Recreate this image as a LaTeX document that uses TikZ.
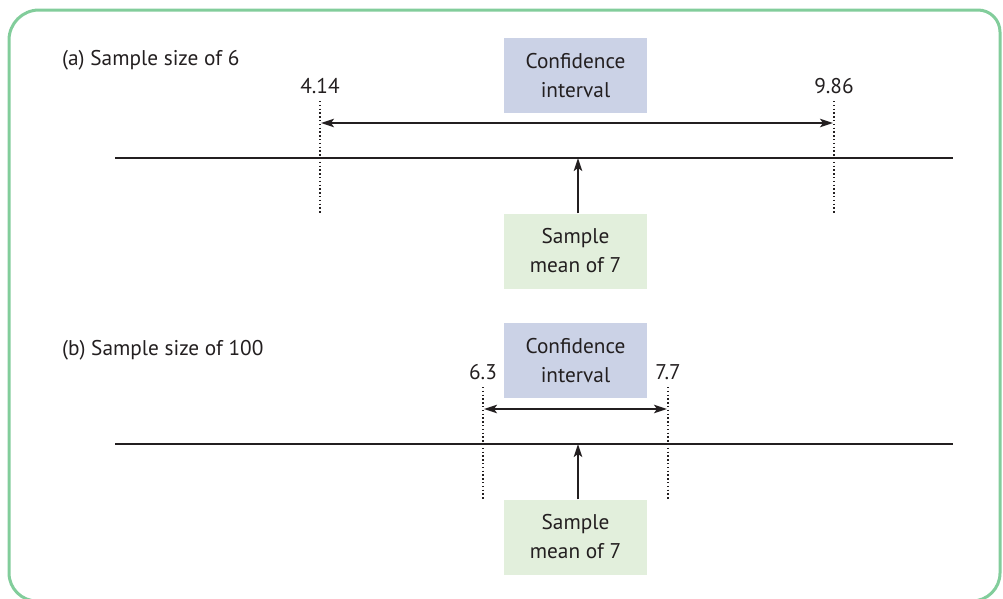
\documentclass[tikz,border=0pt]{standalone}
\usepackage{fontspec}
\setmainfont{PT Sans}
\usetikzlibrary{arrows.meta}
\definecolor{framegreen}{RGB}{130,205,155}
\definecolor{ink}{RGB}{35,31,32}
\definecolor{ciblue}{RGB}{203,210,230}
\definecolor{meangreen}{RGB}{226,239,220}
\begin{document}
\begin{tikzpicture}[x=1pt,y=-1pt,
  txt/.style={font=\fontsize{21.3}{29}\selectfont, text=ink, inner sep=0pt},
  box/.style={txt, minimum width=143pt, minimum height=75pt, align=center},
  cibox/.style={box, fill=ciblue},
  meanbox/.style={box, fill=meangreen},
  axis/.style={draw=ink, line width=2pt},
  tip/.style={-{Stealth[length=13pt,width=8.5pt,inset=3pt]}},
  arr/.style={draw=ink, line width=1.8pt, tip},
  darr/.style={draw=ink, line width=1.8pt, {Stealth[length=13pt,width=8.5pt,inset=3pt]}-{Stealth[length=13pt,width=8.5pt,inset=3pt]}},
  bound/.style={draw=ink, line width=1.6pt, dash pattern=on 1.4pt off 2.4pt},
]
\useasboundingbox (0,0) rectangle (1003,598);

% outer frame (y grows downwards, so angle 270 points up)
\draw[framegreen, line width=3pt]
  (9,40) arc[start angle=180, end angle=270, radius=30] -- (978,10)
  arc[start angle=270, end angle=360, radius=22] -- (1000,573)
  arc[start angle=0, end angle=90, radius=28] -- (37,601)
  arc[start angle=90, end angle=180, radius=28] -- cycle;

% ---------- (a) sample size of 6 ----------
\node[txt, anchor=base west] (titleA) at (62,65) {(a) Sample size of 6};
\node[cibox] (ciA) at (575.5,75.5) {Confidence\\interval};
\node[meanbox] (meanA) at (575.5,251) {Sample\\mean of 7};
\node[txt] (loA) at (320,86) {4.14};
\node[txt] (hiA) at (834,86) {9.86};

\coordinate (axAL) at (115,158);
\coordinate (axAR) at (953,158);
\coordinate (ptA) at (578,158);
\coordinate (loAtop) at (320,101);
\coordinate (loAbot) at (320,214);
\coordinate (hiAtop) at (834,101);
\coordinate (hiAbot) at (834,214);
\coordinate (ciAl) at (321,123);
\coordinate (ciAr) at (833,123);

\draw[axis] (axAL) -- (axAR);
\draw[bound] (loAtop) -- (loAbot);
\draw[bound] (hiAtop) -- (hiAbot);
\draw[darr] (ciAl) -- (ciAr);
\draw[arr] (meanA.north -| ptA) -- (ptA);

% ---------- (b) sample size of 100 ----------
\node[txt, anchor=base west] (titleB) at (62,355) {(b) Sample size of 100};
\node[cibox] (ciB) at (575.5,360.5) {Confidence\\interval};
\node[meanbox] (meanB) at (575.5,537) {Sample\\mean of 7};
\node[txt] (loB) at (483,372) {6.3};
\node[txt] (hiB) at (668,372) {7.7};

\coordinate (axBL) at (115,444);
\coordinate (axBR) at (953,444);
\coordinate (ptB) at (578,444);
\coordinate (loBtop) at (483,387);
\coordinate (loBbot) at (483,500);
\coordinate (hiBtop) at (668,387);
\coordinate (hiBbot) at (668,500);
\coordinate (ciBl) at (484,409);
\coordinate (ciBr) at (667,409);

\draw[axis] (axBL) -- (axBR);
\draw[bound] (loBtop) -- (loBbot);
\draw[bound] (hiBtop) -- (hiBbot);
\draw[darr] (ciBl) -- (ciBr);
\draw[arr] (meanB.north -| ptB) -- (ptB);
\end{tikzpicture}
\end{document}
